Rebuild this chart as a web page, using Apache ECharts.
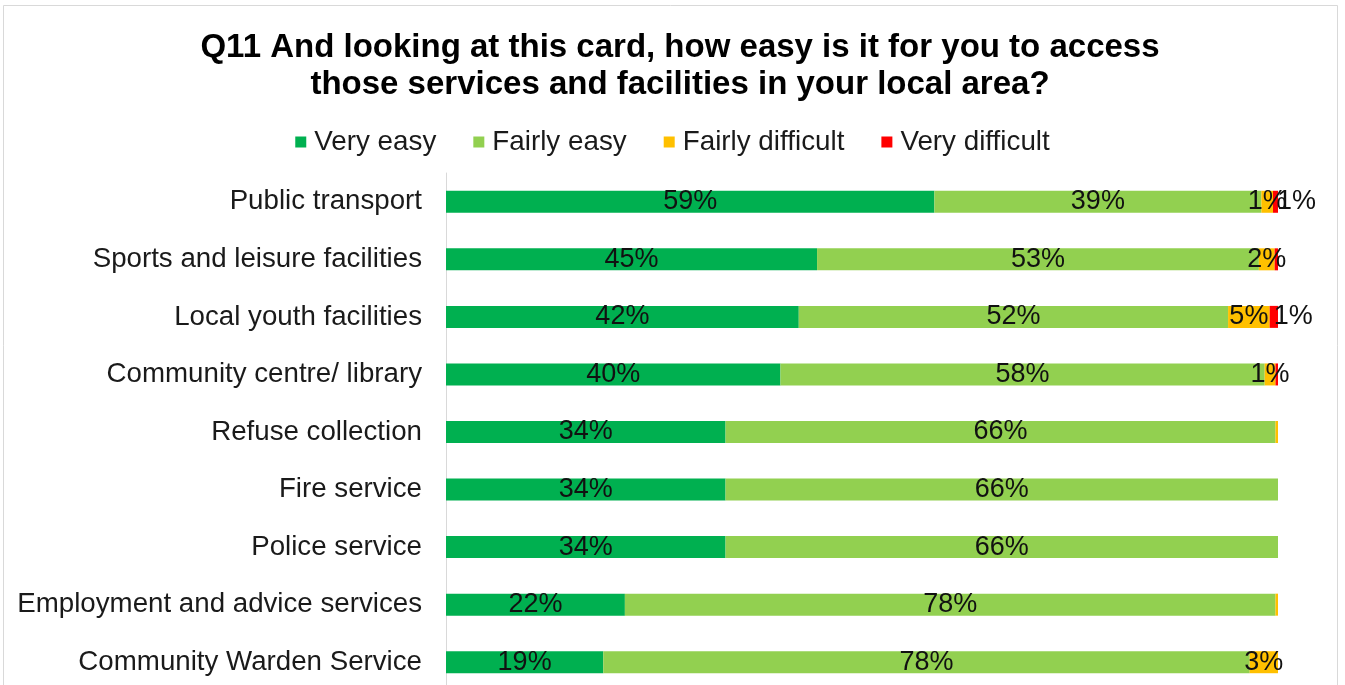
<!DOCTYPE html>
<html>
<head>
<meta charset="utf-8">
<script src="https://cdn.jsdelivr.net/npm/echarts@6/dist/echarts.min.js"></script>
<style>
  html, body { margin: 0; padding: 0; background: #fff; }
  #chart { width: 1345px; height: 685px; }
</style>
</head>
<body>
<div id="chart"></div>
<script>
const categories = [
  'Public transport',
  'Sports and leisure facilities',
  'Local youth facilities',
  'Community centre/ library',
  'Refuse collection',
  'Fire service',
  'Police service',
  'Employment and advice services',
  'Community Warden Service'
]

// shares in %
const veryEasy = [58.7, 44.6, 42.4, 40.2, 33.6, 33.6, 33.6, 21.5, 18.9]
const fairlyEasy = [39.3, 53.1, 51.6, 58.2, 66.1, 66.4, 66.4, 78.2, 77.7]
const fairlyDifficult = [1.4, 1.9, 5.0, 1.3, 0.3, 0, 0, 0.3, 3.4]
const veryDifficult = [0.6, 0.4, 1.0, 0.3, 0, 0, 0, 0, 0]

const seriesNames = ['Very easy', 'Fairly easy', 'Fairly difficult', 'Very difficult']
const colors = ['#00B050', '#92D050', '#FFC000', '#FF0000']

const font = 'Liberation Sans, Arial, sans-serif'

// hide labels of slivers that round to 0%
const pctLabel = (p) => (p.value < 0.5 ? '' : Math.round(p.value) + '%')

const makeSeries = (name, values, labelPos) => ({
  name: name,
  type: 'bar',
  stack: 'total',
  barWidth: 22,
  data: values,
  label: {
    show: true,
    position: labelPos,
    distance: 4,
    formatter: pctLabel,
    color: '#111',
    fontSize: 27,
    fontFamily: font
  }
})

const chart = echarts.init(document.getElementById('chart'))
chart.setOption({
  backgroundColor: '#fff',
  animation: false,
  color: colors,
  title: {
    text: 'Q11 And looking at this card, how easy is it for you to access\nthose services and facilities in your local area?',
    left: 675,
    textAlign: 'center',
    top: 24,
    textStyle: {
      color: '#000',
      fontSize: 33,
      fontWeight: 'bold',
      fontFamily: font,
      lineHeight: 37
    }
  },
  legend: {
    top: 123,
    left: 'center',
    itemWidth: 11,
    itemHeight: 11,
    itemGap: 37,
    icon: 'rect',
    textStyle: {
      color: '#1a1a1a',
      fontSize: 27.8,
      fontFamily: font,
      padding: [0, 0, 0, 3]
    },
    data: seriesNames
  },
  grid: {
    left: 446,
    right: 67,
    top: 173,
    height: 518,
    outerBoundsMode: 'none'
  },
  xAxis: {
    type: 'value',
    min: 0,
    max: 100,
    show: false
  },
  yAxis: {
    type: 'category',
    inverse: true,
    data: categories,
    axisTick: { show: false },
    axisLine: { show: true, lineStyle: { color: '#d9d9d9', width: 1 } },
    axisLabel: {
      color: '#1a1a1a',
      fontSize: 27.7,
      fontFamily: font,
      margin: 24
    }
  },
  graphic: [
    {
      type: 'rect',
      shape: { x: 3.5, y: 5.5, width: 1334, height: 700 },
      style: { fill: 'none', stroke: '#d9d9d9', lineWidth: 1 },
      silent: true
    }
  ],
  series: [
    makeSeries(seriesNames[0], veryEasy, 'inside'),
    makeSeries(seriesNames[1], fairlyEasy, 'inside'),
    makeSeries(seriesNames[2], fairlyDifficult, 'inside'),
    makeSeries(seriesNames[3], veryDifficult, 'insideLeft')
  ]
})
</script>
</body>
</html>
